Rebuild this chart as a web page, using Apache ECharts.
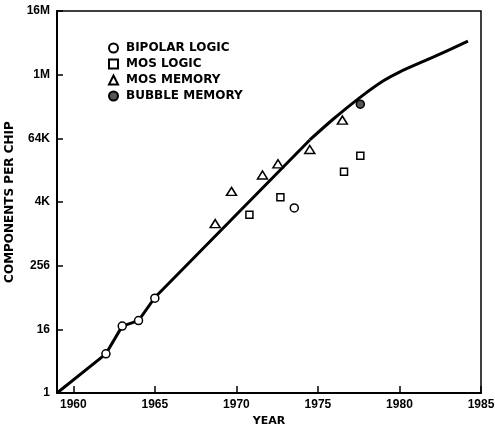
<!DOCTYPE html>
<html>
<head>
<meta charset="utf-8">
<script src="https://cdn.jsdelivr.net/npm/echarts@6/dist/echarts.min.js"></script>
<style>html,body{margin:0;padding:0;background:#fff}#c{width:495px;height:425px}</style>
</head>
<body>
<div id="c"></div>
<script>
// Trend line, straight part (year, components per chip)
const trendYears  = [1959, 1962, 1963, 1964, 1965, 1974.5];
const trendValues = [1, 5.5, 18.4, 23.4, 64, 61100];
// Trend line, bending part
const curveYears  = [1974.5, 1975.93, 1977.57, 1978.99, 1980.0, 1982.06, 1984.2];
const curveValues = [61100, 150500, 386400, 794500, 1175000, 2247000, 4496000];

// Bipolar logic
const bipolarYears  = [1962, 1963, 1964, 1965, 1973.55];
const bipolarValues = [5.5, 18.4, 23.4, 62, 3170];

// MOS logic
const mosLogicYears  = [1970.8, 1972.7, 1976.6, 1977.6];
const mosLogicValues = [2350, 5040, 15300, 30600];

// MOS memory
const mosMemYears  = [1968.7, 1969.7, 1971.6, 1972.55, 1974.5, 1976.5];
const mosMemValues = [1600, 6500, 13300, 21600, 40300, 145000];

// Bubble memory
const bubbleYears  = [1977.6];
const bubbleValues = [290000];

const xTicks = [1960, 1965, 1970, 1975, 1980, 1985];
const yTickLabels = ['1', '16', '256', '4K', '64K', '1M', '16M'];

const zip = (xs, ys) => xs.map((x, i) => [x, ys[i]]);

const chart = echarts.init(document.getElementById('c'), null, {renderer: 'canvas'});
const tickFont = {fontFamily: 'Liberation Sans', fontWeight: 'bold', fontSize: 12, color: '#000'};
const nameFont = {fontFamily: 'DejaVu Sans', fontWeight: 'bold', fontSize: 12, color: '#000'};
const hollow = {color: '#fff', borderColor: '#000', borderWidth: 1.5, opacity: 1};

chart.setOption({
  animation: false,
  backgroundColor: '#fff',
  grid: {left: 57, right: 14, top: 11, bottom: 32, outerBoundsMode: 'none', containLabel: false,
         show: true, borderColor: '#000', borderWidth: 1.5, backgroundColor: 'transparent'},
  legend: {
    orient: 'vertical', left: 103, top: 37, itemWidth: 9, itemHeight: 9, itemGap: 4,
    textStyle: {fontFamily: 'DejaVu Sans', fontWeight: 'bold', fontSize: 12, color: '#000', padding: [0, 0, 0, 3]},
    data: ['BIPOLAR LOGIC', 'MOS LOGIC', 'MOS MEMORY', 'BUBBLE MEMORY']
  },
  xAxis: {
    type: 'value', min: 1959, max: 1985,
    name: 'YEAR', nameLocation: 'middle', nameGap: 23,
    nameTextStyle: Object.assign({}, nameFont, {fontSize: 11}),
    axisLine: {lineStyle: {color: '#000', width: 2}},
    axisTick: {inside: true, length: 7, lineStyle: {color: '#000', width: 1.5}, customValues: xTicks},
    axisLabel: Object.assign({}, tickFont, {margin: 6, customValues: xTicks, formatter: v => String(v)}),
    splitLine: {show: false}
  },
  yAxis: {
    type: 'log', logBase: 16, min: 1, max: 16777216,
    name: 'COMPONENTS PER CHIP', nameLocation: 'middle', nameGap: 36, nameRotate: 90,
    nameTextStyle: nameFont,
    axisLine: {lineStyle: {color: '#000', width: 2}},
    axisTick: {inside: true, length: 6, lineStyle: {color: '#000', width: 1.5}},
    axisLabel: Object.assign({}, tickFont, {margin: 7, formatter: v => yTickLabels[Math.round(Math.log(v) / Math.log(16))]}),
    splitLine: {show: false}
  },
  series: [
    {
      type: 'line', name: 'trend', data: zip(trendYears, trendValues), showSymbol: false, symbol: 'none',
      lineStyle: {color: '#000', width: 3}, z: 2
    },
    {
      type: 'line', name: 'trend2', data: zip(curveYears, curveValues), showSymbol: false, symbol: 'none',
      lineStyle: {color: '#000', width: 3}, smooth: 0.3, z: 2
    },
    {
      type: 'scatter', name: 'BIPOLAR LOGIC', data: zip(bipolarYears, bipolarValues), symbol: 'circle', symbolSize: 8,
      itemStyle: hollow, z: 3
    },
    {
      type: 'scatter', name: 'MOS LOGIC', data: zip(mosLogicYears, mosLogicValues), symbol: 'rect', symbolSize: 7,
      itemStyle: hollow, z: 3
    },
    {
      type: 'scatter', name: 'MOS MEMORY', data: zip(mosMemYears, mosMemValues), symbol: 'triangle', symbolSize: [10, 8],
      itemStyle: hollow, z: 3
    },
    {
      type: 'scatter', name: 'BUBBLE MEMORY', data: zip(bubbleYears, bubbleValues), symbol: 'circle', symbolSize: 8,
      itemStyle: {color: '#555', borderColor: '#000', borderWidth: 1.5, opacity: 1}, z: 3
    }
  ]
});
</script>
</body>
</html>
